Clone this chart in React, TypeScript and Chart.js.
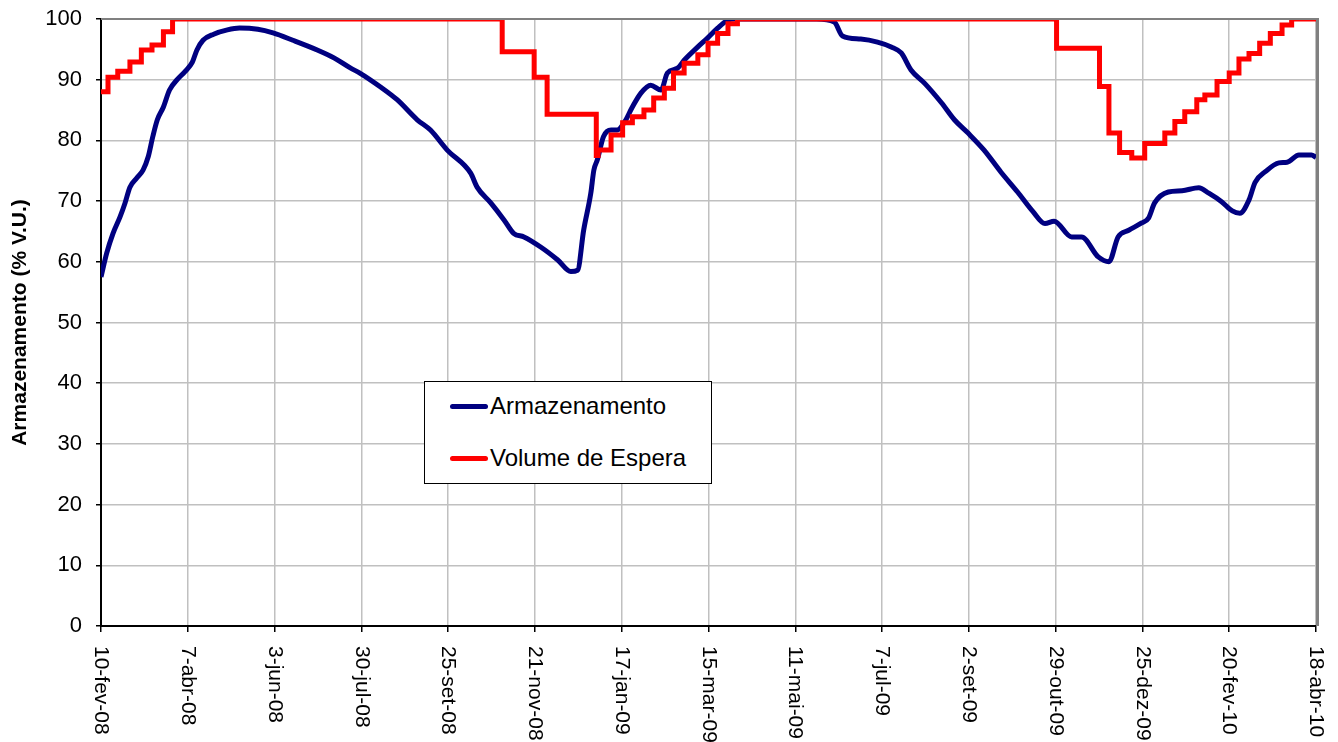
import React, { useEffect, useRef } from "react";
import { Chart, registerables } from "chart.js";

Chart.register(...registerables);

const FONT = "'Liberation Sans', Arial, Helvetica, sans-serif";

// x axis: days since 10-fev-08, ticks every 57 days
const tickDays = [0, 57, 114, 171, 228, 285, 342, 399, 456, 513, 570, 627, 684, 741, 798];
const tickLabels = [
  "10-fev-08", "7-abr-08", "3-jun-08", "30-jul-08", "25-set-08", "21-nov-08", "17-jan-09",
  "15-mar-09", "11-mai-09", "7-jul-09", "2-set-09", "29-out-09", "25-dez-09", "20-fev-10", "18-abr-10",
];

// Armazenamento (% V.U.)
const armDays = [
  0, 3.7, 7.9, 12.5, 15.8, 19, 23.5, 27.6, 31, 34, 37, 41, 45, 50, 55, 60, 63, 67, 74, 83, 91, 103, 113,
  126, 142, 153, 164, 170, 183.6, 194.5, 207.7, 216.4, 227.4, 242.8, 247, 256, 264.7, 271, 277.8, 289,
  300, 308.6, 313, 317, 321.7, 323.7, 326, 330, 335, 339, 343.6, 349, 354.6, 361, 367.8, 372, 378.7, 383,
  392, 398.5, 405, 411.6, 416, 440, 470, 481.6, 487, 499, 510, 519, 525.6, 532, 541, 552, 560.5, 569.5,
  580, 591, 602, 612, 620, 626, 637.5, 644, 655, 662, 668, 675, 683.5, 688, 692, 701, 710, 721, 727.6,
  736, 743, 748, 754, 758, 764.5, 773.6, 779, 786.8, 795, 798,
];
const armValues = [
  57.5, 61.4, 64.7, 67.4, 69.7, 72.3, 73.8, 75.1, 77.3, 80.6, 83.4, 85.5, 88.3, 90, 91.3, 92.9, 94.9,
  96.5, 97.5, 98.2, 98.5, 98.3, 97.7, 96.5, 94.9, 93.6, 91.9, 91.1, 88.8, 86.7, 83.4, 81.7, 78.4, 74.6,
  72.3, 69.7, 66.9, 64.7, 64.1, 62.4, 60.3, 58.4, 58.6, 65.2, 71.3, 75.1, 76.8, 80.6, 81.7, 81.7, 82.9,
  85.5, 87.8, 89.1, 88.3, 91.1, 91.9, 93.2, 95.4, 96.9, 98.5, 99.8, 100, 100, 100, 99.5, 97.2, 96.7,
  96.2, 95.4, 94.4, 91.6, 89.4, 86.2, 83.4, 81.2, 78.4, 74.8, 71.5, 68.3, 66.3, 66.7, 64.1, 64.1, 60.8,
  60.0, 64.1, 65.2, 66.4, 67.2, 69.7, 71.5, 71.7, 72.2, 71.3, 69.9, 68.4, 68, 70.2, 73.1, 74.8, 76.3,
  76.4, 77.6, 77.6, 77.2,
];

// Volume de Espera (each value holds from its day until the next day)
const espDays = [
  0, 4.6, 11, 19, 26.5, 33.5, 41, 47, 263.5, 284.5, 293, 325.3, 326.5, 335, 342.6, 349, 356.6, 363, 370,
  376, 383, 392, 398.7, 405, 411.8, 418, 627.6, 655.8, 662, 669, 677, 685.5, 698.7, 705.3, 711.8, 719.7,
  725, 733, 741, 747.4, 754, 761, 768, 775.7, 782, 798,
];
const espValues = [
  88, 90.4, 91.4, 92.9, 94.9, 95.7, 97.9, 100, 94.6, 90.4, 84.3, 77.5, 78.4, 80.9, 82.9, 83.9, 85, 87,
  88.6, 91.1, 92.7, 94.1, 96, 97.6, 99.2, 100, 95.2, 88.9, 81.2, 78, 77.1, 79.5, 81.2, 83.1, 84.7, 86.7,
  87.5, 89.7, 91.1, 93.4, 94.3, 96, 97.6, 99, 100, 100,
];

const seriesNames = ["Armazenamento", "Volume de Espera"];
const seriesColors = ["#000080", "#FF0000"];
const yTitle = "Armazenamento (% V.U.)";

export default function App() {
  const ref = useRef<HTMLCanvasElement | null>(null);

  useEffect(() => {
    if (!ref.current) return;

    const framePlugin = {
      id: "frame",
      afterDatasetsDraw(chart: any) {
        const { ctx, chartArea } = chart;
        const { left, right, top, bottom } = chartArea;
        ctx.save();
        ctx.strokeStyle = "#808080";
        ctx.lineWidth = 2;
        ctx.beginPath();
        ctx.moveTo(left, top);
        ctx.lineTo(right + 3, top);
        ctx.stroke();
        ctx.lineWidth = 3;
        ctx.beginPath();
        ctx.moveTo(right + 1.5, top);
        ctx.lineTo(right + 1.5, bottom);
        ctx.stroke();
        ctx.restore();
      },
      afterDraw(chart: any) {
        const { ctx, chartArea } = chart;
        const xs = chart.scales.x;
        ctx.save();
        ctx.font = `21px ${FONT}`;
        ctx.fillStyle = "#000";
        ctx.textAlign = "left";
        ctx.textBaseline = "middle";
        tickDays.forEach((d, i) => {
          const px = xs.getPixelForValue(d);
          ctx.save();
          ctx.translate(px, chartArea.bottom + 20);
          ctx.rotate(Math.PI / 2);
          ctx.fillText(tickLabels[i], 0, 0);
          ctx.restore();
        });
        ctx.restore();
      },
    };

    const chart = new Chart(ref.current, {
      type: "line",
      data: {
        datasets: [
          {
            label: seriesNames[1],
            data: espDays.map((d, i) => ({ x: d, y: espValues[i] })),
            borderColor: seriesColors[1],
            backgroundColor: seriesColors[1],
            borderWidth: 5,
            pointRadius: 0,
            stepped: "before",
            clip: 0,
            order: 0,
          },
          {
            label: seriesNames[0],
            data: armDays.map((d, i) => ({ x: d, y: armValues[i] })),
            borderColor: seriesColors[0],
            backgroundColor: seriesColors[0],
            borderWidth: 5,
            pointRadius: 0,
            cubicInterpolationMode: "monotone",
            tension: 0.4,
            clip: 0,
            order: 1,
          },
        ],
      },
      options: {
        responsive: false,
        animation: false,
        devicePixelRatio: 1,
        layout: { padding: { top: 19, right: 22, left: 0, bottom: 0 } },
        plugins: {
          legend: { display: false },
          tooltip: { enabled: false },
        },
        scales: {
          x: {
            type: "linear",
            min: 0,
            max: 798,
            afterBuildTicks: (scale: any) => {
              scale.ticks = tickDays.map((v) => ({ value: v }));
            },
            afterFit: (scale: any) => {
              scale.height = 116;
              scale.paddingLeft = 0;
              scale.paddingRight = 0;
            },
            ticks: { display: false },
            grid: {
              color: "#c0c0c0",
              lineWidth: 1.5,
              tickColor: "#000",
              tickLength: 6,
              drawTicks: true,
            },
            border: { color: "#000", width: 2 },
          },
          y: {
            min: 0,
            max: 100,
            ticks: {
              stepSize: 10,
              padding: 14,
              color: "#000",
              font: { family: FONT, size: 22 },
            },
            afterFit: (scale: any) => {
              scale.width = 101;
              scale.paddingTop = 0;
              scale.paddingBottom = 0;
            },
            grid: {
              color: "#c0c0c0",
              lineWidth: 1.5,
              tickColor: "#000",
              tickLength: 5,
            },
            border: { color: "#000", width: 2 },
            title: {
              display: true,
              text: yTitle,
              color: "#000",
              font: { family: FONT, size: 21, weight: "bold" },
              padding: { top: 8, bottom: 0 },
            },
          },
        },
      },
      plugins: [framePlugin],
    } as any);

    return () => chart.destroy();
  }, []);

  return (
    <div
      style={{
        position: "fixed",
        left: 0,
        top: 0,
        width: 1338,
        height: 742,
        background: "#fff",
        overflow: "hidden",
        fontFamily: FONT,
      }}
    >
      <canvas ref={ref} width={1338} height={742} style={{ display: "block" }} />
      <div
        style={{
          position: "absolute",
          left: 424,
          top: 381,
          width: 288,
          height: 103,
          boxSizing: "border-box",
          border: "1.5px solid #000",
          background: "#fff",
        }}
      />
      {seriesNames.map((name, i) => (
        <React.Fragment key={name}>
          <div
            style={{
              position: "absolute",
              left: 450,
              top: (i === 0 ? 406 : 458) - 2.5,
              width: 38,
              height: 5,
              borderRadius: 2.5,
              background: seriesColors[i],
            }}
          />
          <div
            style={{
              position: "absolute",
              left: 490,
              top: (i === 0 ? 406 : 458) - 12,
              fontSize: 24,
              lineHeight: "24px",
              color: "#000",
              whiteSpace: "nowrap",
            }}
          >
            {name}
          </div>
        </React.Fragment>
      ))}
    </div>
  );
}
